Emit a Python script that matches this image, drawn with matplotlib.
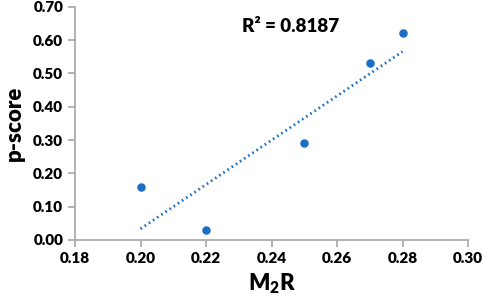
import numpy as np
import matplotlib
matplotlib.use("Agg")
import matplotlib.pyplot as plt

# ── Data ─────────────────────────────────────────────────────────────────────
m2r    = [0.20, 0.22, 0.25, 0.27, 0.28]
pscore = [0.16, 0.03, 0.29, 0.53, 0.62]
xticks = [0.18, 0.20, 0.22, 0.24, 0.26, 0.28, 0.30]
yticks = [0.00, 0.10, 0.20, 0.30, 0.40, 0.50, 0.60, 0.70]

BLUE = "#1a6fc4"
GREY = "#a6a6a6"
plt.rcParams["font.family"] = ["Lato", "DejaVu Sans"]

# ── Linear trend ─────────────────────────────────────────────────────────────
x = np.array(m2r); y = np.array(pscore)
slope, icpt = np.polyfit(x, y, 1)
r2 = np.corrcoef(x, y)[0, 1] ** 2
xf = np.array([x.min(), x.max()])

fig = plt.figure(figsize=(4.84, 2.98), dpi=100)
ax = fig.add_axes([0.155, 0.195, 0.812, 0.782])
ax.scatter(x, y, s=26, color=BLUE, zorder=3)
ax.plot(xf, slope * xf + icpt, color=BLUE, lw=2, linestyle=(0, (0.6, 1.2)))
ax.text(0.231, 0.64, f"R² = {r2:.4f}", fontsize=13.5, fontweight="heavy", va="center")

ax.set_xlim(0.18, 0.30); ax.set_ylim(0, 0.70)
ax.set_xticks(xticks); ax.set_yticks(yticks)
ax.set_xticklabels([f"{v:.2f}" for v in xticks])
ax.set_yticklabels([f"{v:.2f}" for v in yticks])
for s in ["top", "right"]:
    ax.spines[s].set_visible(False)
for s in ["left", "bottom"]:
    ax.spines[s].set_color(GREY); ax.spines[s].set_linewidth(1.2)
ax.tick_params(colors=GREY, labelcolor="black", length=5, width=1.2, labelsize=11)
for lbl in ax.get_xticklabels() + ax.get_yticklabels():
    lbl.set_fontweight("heavy")
ax.set_xlabel("M$_\\mathregular{2}$R", fontsize=16, fontweight="heavy", labelpad=5)
ax.set_ylabel("p-score", fontsize=16, fontweight="heavy", labelpad=6)

plt.savefig("out.png", dpi=100)
plt.close()
